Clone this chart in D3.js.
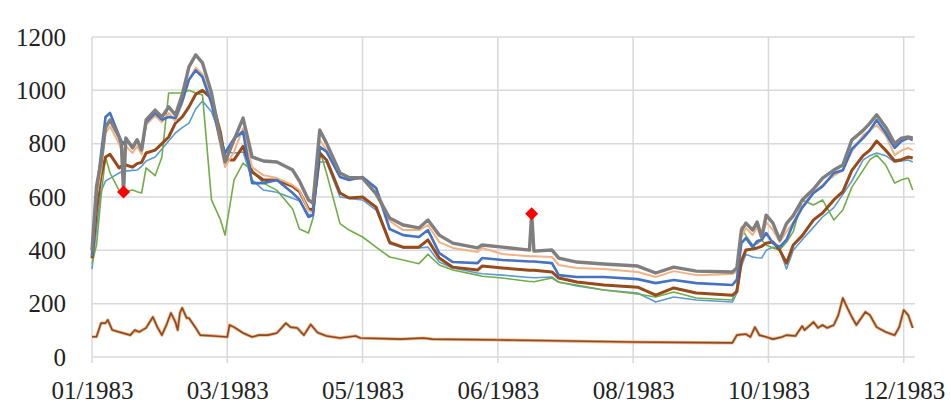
<!DOCTYPE html>
<html>
<head>
<meta charset="utf-8">
<script src="https://cdn.jsdelivr.net/npm/d3@7"></script>
<style>
  body { margin: 0; background: #fff; }
  .tick text { font-family: "Liberation Serif", "Times New Roman", serif; fill: #222; }
</style>
</head>
<body>
<div id="vis-container"></div>
<script>
// day offsets from 01/01/1983
var days = [0,2,4,6,8,12,13,14,15,18,20,22,24,28,31,34,37,40,43,46,49,53,57,59,63,67,71,76,82,89,
  92,96,98,101,104,110,114,120,126,132,138,145,149,154,160,171,173,182,194,195,196,204,207,215,227,
  242,250,258,268,284,286,288,290,293,295,297,299,302,305,308,311,315,320,324,329,333,337,342,345,348,
  352,356,359,362,364];

var greySeries = [400,640,730,860,889,825,800,619,821,784,814,776,889,926,900,938,908,983,1088,1133,
  1103,990,814,731,814,896,750,735,731,701,660,589,577,851,802,690,673,671,612,521,
  495,484,514,457,427,409,420,412,401,537,397,401,371,356,349,341,315,337,322,319,
  334,476,502,476,506,450,532,502,439,500,530,589,630,671,701,720,814,850,877,908,
  862,800,821,825,821];

var orangeSeries = [380,600,700,840,865,800,780,770,790,765,790,760,870,905,880,915,885,950,1040,1085,
  1060,960,790,712,770,858,712,682,671,645,625,550,540,814,776,675,668,671,634,510,
  476,476,495,431,409,394,409,386,378,378,378,375,345,334,330,319,300,322,307,311,
  320,450,484,457,487,439,506,476,431,470,505,565,619,645,680,700,770,832,850,870,
  830,757,775,784,776];

var blueSeries = [380,620,760,900,915,830,810,800,815,790,815,780,880,915,890,900,896,960,1040,1075,
  1050,950,810,765,820,845,652,652,664,615,590,525,532,788,770,675,664,675,634,480,
  457,450,476,390,356,352,371,364,358,358,358,352,307,300,300,292,277,289,277,270,
  290,427,446,412,435,439,465,427,412,440,500,560,615,640,690,700,780,821,850,889,
  840,784,810,821,814];

var brownSeries = [370,550,680,750,760,709,715,720,720,712,725,730,765,776,800,825,877,900,938,985,
  1000,970,840,740,739,790,694,664,664,640,620,555,551,765,739,615,596,600,562,430,
  412,412,439,371,337,326,341,334,325,325,325,319,296,281,270,262,232,259,240,232,
  245,360,401,405,409,415,427,431,401,352,420,455,514,540,589,620,700,755,776,810,
  775,735,740,750,746];

var lightBlueSeries = [330,480,620,660,670,690,694,695,697,700,701,715,735,750,780,810,840,860,877,930,
  960,920,830,770,765,769,664,626,618,595,585,535,532,731,731,600,595,589,551,425,
  409,409,412,356,334,315,312,307,298,298,297,300,281,266,251,240,206,225,214,206,
  240,340,385,375,372,371,400,412,401,330,400,440,487,525,560,610,660,739,755,765,
  755,731,735,739,731];

var greenSeries = [350,420,600,750,690,625,615,615,620,626,620,615,709,680,750,990,990,990,1000,990,
  983,589,514,457,664,727,700,652,625,555,480,465,520,776,690,500,476,450,412,375,
  364,350,385,345,326,307,303,296,283,283,282,296,280,270,251,236,225,244,221,214,
  260,487,455,420,425,439,420,409,401,430,470,589,570,589,514,551,637,701,740,757,
  720,652,665,671,626];

var lowDays = [0,2,4,6,7,9,12,17,19,21,24,27,29,31,33,35,37,38,39,40,42,43,46,48,54,60,61,63,67,71,
  74,78,82,86,88,91,94,97,100,104,110,117,119,137,147,151,181,240,284,286,290,292,294,296,299,302,
  306,308,312,315,316,320,322,324,326,329,331,333,335,337,339,343,345,348,352,356,358,360,362,364];
var lowSeries = [76,76,127,127,139,101,94,82,101,94,109,150,112,82,120,165,131,101,165,184,146,146,109,82,79,
  75,120,112,90,75,82,82,90,127,112,109,82,122,92,79,71,79,71,67,71,67,64,56,53,82,
  86,75,112,82,75,67,75,82,79,116,101,131,109,120,109,120,157,221,184,150,120,169,157,112,94,
  82,112,176,157,109];

var markerDays = [14, 195];
var yTicks = [0, 200, 400, 600, 800, 1000, 1200];
var xTickDays = [0, 60, 120, 180, 240, 300, 360];

var margin = { top: 37, right: 36, bottom: 47, left: 92 };
var width = 951 - margin.left - margin.right;
var height = 404 - margin.top - margin.bottom;

var svg = d3.select("#vis-container")
  .append("svg")
  .attr("width", 951)
  .attr("height", 404)
  .append("g")
  .attr("transform", "translate(" + margin.left + "," + margin.top + ")");

var start = new Date(Date.UTC(1983, 0, 1));
function toDate(d) { return d3.utcDay.offset(start, d); }

var xScale = d3.scaleUtc().domain([start, toDate(365)]).range([0, width]);
var yScale = d3.scaleLinear().domain([0, 1200]).range([height, 0]);

// horizontal grid
svg.selectAll(".hgrid")
  .data(yTicks)
  .enter().append("line")
  .attr("x1", 0).attr("x2", width)
  .attr("y1", function (d) { return yScale(d); })
  .attr("y2", function (d) { return yScale(d); })
  .attr("stroke", "#d9d9d9")
  .attr("stroke-width", 1.5);

// vertical grid (runs a bit past the axis like tick marks)
svg.selectAll(".vgrid")
  .data(xTickDays)
  .enter().append("line")
  .attr("x1", function (d) { return xScale(toDate(d)); })
  .attr("x2", function (d) { return xScale(toDate(d)); })
  .attr("y1", 0).attr("y2", height + 6)
  .attr("stroke", "#d9d9d9")
  .attr("stroke-width", 1.5);

// y axis labels
var yAxis = svg.append("g")
  .call(d3.axisLeft(yScale).tickValues(yTicks).tickFormat(d3.format("d")).tickSize(0).tickPadding(26));
yAxis.select(".domain").remove();
yAxis.selectAll("text").style("font-size", "25px");

// x axis labels
var xAxis = svg.append("g")
  .attr("transform", "translate(0," + height + ")")
  .call(d3.axisBottom(xScale)
    .tickValues(xTickDays.map(toDate))
    .tickFormat(d3.utcFormat("%m/%Y"))
    .tickSize(0).tickPadding(24));
xAxis.select(".domain").remove();
xAxis.selectAll("text").style("font-size", "25px");

var line = d3.line()
  .x(function (d) { return xScale(toDate(d[0])); })
  .y(function (d) { return yScale(d[1]); });

function pairs(xs, ys) { return xs.map(function (d, i) { return [d, ys[i]]; }); }

function drawSeries(values, color, w, xs) {
  svg.append("path")
    .datum(pairs(xs || days, values))
    .attr("fill", "none")
    .attr("stroke", color)
    .attr("stroke-width", w)
    .attr("stroke-linejoin", "round")
    .attr("d", line);
}

drawSeries(lightBlueSeries, "#5b9bd5", 1.6);
drawSeries(greenSeries, "#70ad47", 1.6);
drawSeries(brownSeries, "#984a18", 3);
drawSeries(orangeSeries, "#f4b183", 2);
drawSeries(blueSeries, "#4472c4", 2.6);
drawSeries(greySeries, "#7f7f7f", 3.4);

// bottom series: brown with a light orange halo
drawSeries(lowSeries, "#f4b183", 3.2, lowDays);
drawSeries(lowSeries, "#8a4a22", 1.6, lowDays);

// red diamonds on the grey series
svg.selectAll(".marker")
  .data(markerDays)
  .enter().append("path")
  .attr("d", d3.symbol().type(d3.symbolSquare).size(85))
  .attr("fill", "#ff0000")
  .attr("transform", function (d) {
    var v = greySeries[days.indexOf(d)];
    return "translate(" + xScale(toDate(d)) + "," + yScale(v) + ") rotate(45)";
  });
</script>
</body>
</html>
